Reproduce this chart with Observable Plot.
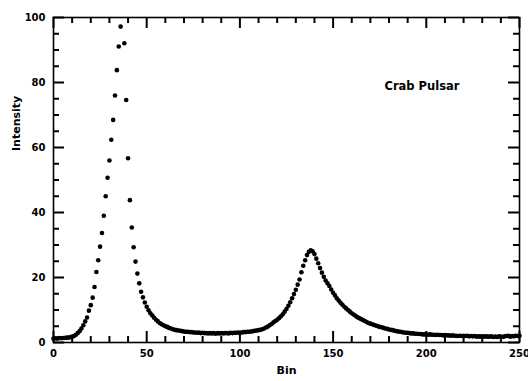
<!DOCTYPE html>
<html><head><meta charset="utf-8">
<script src="https://cdn.jsdelivr.net/npm/d3@7"></script>
<script src="https://cdn.jsdelivr.net/npm/@observablehq/plot@0.6"></script>
<style>body{margin:0;background:#fff}</style>
</head><body><div id="chart"></div>
<script>
// Intensity per bin (bin 0 .. 250); bin 37 lies above the plotted range
const intensity = [
  1.2,1.3,1.2,1.4,1.3,1.4,1.4,1.5,1.5,1.6,      // 0-9
  1.8,2.0,2.4,2.9,3.5,4.3,5.3,6.5,7.7,9.8,      // 10-19
  11.5,13.8,17.1,21.7,25.3,29.5,33.7,39.0,45.0,50.7, // 20-29
  56.0,62.4,68.5,76.0,83.8,91.1,97.2,null,92.1,74.6, // 30-39
  56.7,43.8,35.4,29.3,24.9,21.2,18.2,15.6,13.9,12.3, // 40-49
  11.0,9.9,9.0,8.3,7.6,7.0,6.5,6.0,5.6,5.3,     // 50-59
  5.0,4.8,4.5,4.3,4.1,3.9,3.8,3.7,3.6,3.5,      // 60-69
  3.4,3.3,3.3,3.2,3.2,3.1,3.1,3.0,3.1,2.9,      // 70-79
  3.0,2.9,2.9,2.8,2.9,2.8,2.9,2.7,2.9,2.8,      // 80-89
  2.9,2.8,2.9,2.9,2.8,3.0,2.9,3.0,3.0,3.1,      // 90-99
  3.0,3.1,3.2,3.2,3.3,3.3,3.4,3.5,3.6,3.7,      // 100-109
  3.8,3.9,4.1,4.3,4.6,4.9,5.3,5.7,6.2,6.6,      // 110-119
  7.0,7.5,8.1,8.7,9.5,10.3,11.3,12.4,13.6,14.9, // 120-129
  16.2,17.8,19.4,21.6,23.6,25.3,26.9,27.9,28.4,28.1, // 130-139
  27.2,25.8,24.4,22.9,21.5,20.2,19.1,18.2,17.4,16.3, // 140-149
  15.3,14.5,13.6,12.9,12.2,11.6,11.0,10.5,10.0,9.5, // 150-159
  9.0,8.6,8.2,7.8,7.5,7.2,6.9,6.6,6.3,6.0,      // 160-169
  5.8,5.6,5.4,5.2,5.0,4.8,4.7,4.5,4.3,4.2,      // 170-179
  4.0,3.9,3.8,3.6,3.5,3.4,3.3,3.2,3.1,3.0,      // 180-189
  3.0,2.9,2.8,2.8,2.7,2.7,2.6,2.6,2.5,2.5,      // 190-199
  2.5,2.4,2.5,2.4,2.4,2.3,2.4,2.3,2.3,2.2,      // 200-209
  2.3,2.2,2.2,2.1,2.2,2.1,2.1,2.0,2.1,2.0,      // 210-219
  2.1,2.0,2.1,1.9,2.0,1.9,2.0,1.8,1.9,1.8,      // 220-229
  1.9,1.8,1.9,1.8,1.8,1.9,1.7,1.8,1.7,1.9,      // 230-239
  1.8,1.7,1.9,2.0,2.1,1.8,2.0,1.9,2.1,2.0,      // 240-249
  2.1                                          // 250
];
const bins = d3.range(0, intensity.length);

const xMajorTicks = [0, 50, 100, 150, 200, 250];
const xMinorTicks = [10,20,30,40,60,70,80,90,110,120,130,140,160,170,180,190,210,220,230,240];
const yMajorTicks = [0, 20, 40, 60, 80, 100];
const yMinorTicks = [5,10,15,25,30,35,45,50,55,65,70,75,85,90,95];

const xLabel = "Bin";
const yLabel = "Intensity";
const annotation = "Crab Pulsar";

const data = bins
  .map((b, i) => ({bin: b, intensity: intensity[i]}))
  .filter(d => d.intensity != null);

const W = 528, H = 381, mL = 53, mR = 9, mT = 17, mB = 39;
const plotW = W - mL - mR, plotH = H - mT - mB;
const xDomain = [0, 250], yDomain = [0, 100];
const major = 11, minor = 6;
const ink = "black";
const tk = {stroke: ink, strokeWidth: 2};
const font = {fontFamily: "DejaVu Sans", fontWeight: "bold"};

// tick length in pixels -> length in data units
const lenX = px => (xDomain[1] - xDomain[0]) * px / plotW;
const lenY = px => (yDomain[1] - yDomain[0]) * px / plotH;

// inward ticks on all four sides
const xTicks = (vals, len) => [
  Plot.ruleX(vals, {x: d => d, y1: yDomain[0], y2: yDomain[0] + lenY(len), ...tk}),
  Plot.ruleX(vals, {x: d => d, y1: yDomain[1] - lenY(len), y2: yDomain[1], ...tk})
];
const yTicks = (vals, len) => [
  Plot.ruleY(vals, {y: d => d, x1: xDomain[0], x2: xDomain[0] + lenX(len), ...tk}),
  Plot.ruleY(vals, {y: d => d, x1: xDomain[1] - lenX(len), x2: xDomain[1], ...tk})
];

const plot = Plot.plot({
  width: W, height: H,
  marginLeft: mL, marginRight: mR, marginTop: mT, marginBottom: mB,
  x: {domain: xDomain},
  y: {domain: yDomain},
  marks: [
    Plot.axisX(xMajorTicks, {anchor: "bottom", tickSize: 0, tickPadding: 7, fill: ink, fontSize: 10, ...font, label: null}),
    Plot.axisY(yMajorTicks, {anchor: "left", tickSize: 0, tickPadding: 8, fill: ink, fontSize: 10, ...font, label: null}),
    Plot.dot(data, {x: "bin", y: "intensity", r: 2.3, fill: ink, stroke: "none"}),
    Plot.text([yLabel], {frameAnchor: "left", rotate: -90, dx: -37, dy: -29, fontSize: 11, ...font, fill: ink}),
    Plot.text([xLabel], {frameAnchor: "bottom", dy: 31, fontSize: 11, ...font, fill: ink}),
    Plot.text([annotation], {frameAnchor: "top-right", dx: -135, dy: 64, textAnchor: "start", fontSize: 11.5, ...font, fill: ink}),
    ...xTicks(xMajorTicks, major),
    ...xTicks(xMinorTicks, minor),
    ...yTicks(yMajorTicks, major),
    ...yTicks(yMinorTicks, minor),
    Plot.frame({stroke: ink, fill: "none", strokeWidth: 1.6})
  ]
});
document.getElementById("chart").appendChild(plot);
</script>
</body></html>
